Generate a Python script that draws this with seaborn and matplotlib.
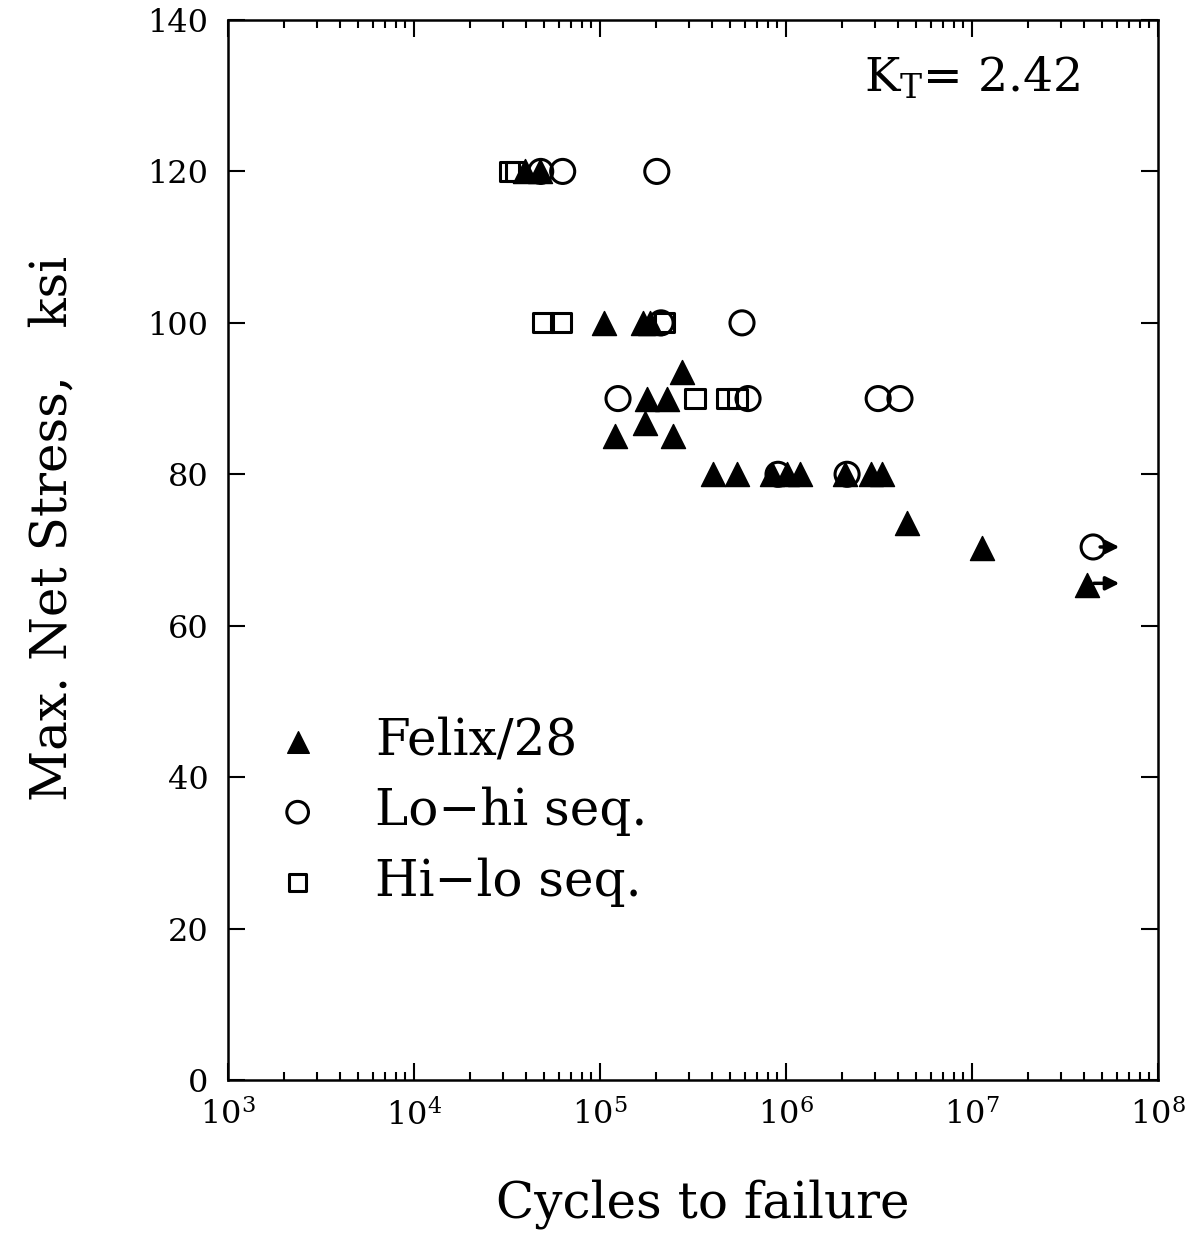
import numpy as np
import pandas as pd
import matplotlib
matplotlib.use("Agg")
import matplotlib.pyplot as plt
from matplotlib.ticker import LogLocator, FixedLocator
import seaborn as sns

# Felix/28 baseline (filled triangles)
felix_cycles = [3.95e4, 4.75e4, 1.05e5, 1.70e5, 1.86e5, 2.76e5, 1.79e5, 2.29e5,
                1.75e5, 1.20e5, 2.47e5, 4.06e5, 5.46e5, 8.42e5, 1.01e6, 1.19e6,
                2.07e6, 2.86e6, 3.28e6, 4.48e6, 1.13e7, 4.15e7]
felix_stress = [120, 120, 100, 100, 100, 93.5, 90, 90,
                86.8, 85, 85, 80, 80, 80, 80, 80,
                80, 80, 80, 73.6, 70.3, 65.4]

# Lo-hi sequence (open circles)
lohi_cycles = [4.8e4, 6.3e4, 2.02e5, 2.13e5, 5.8e5, 1.25e5, 6.25e5, 3.13e6,
               4.1e6, 9.06e5, 2.13e6, 4.48e7]
lohi_stress = [120, 120, 120, 100, 100, 90, 90, 90,
               90, 80, 80, 70.4]

# Hi-lo sequence (open squares)
hilo_cycles = [3.25e4, 3.5e4, 4.94e4, 6.17e4, 2.23e5, 3.24e5, 4.82e5, 5.46e5]
hilo_stress = [120, 120, 100, 100, 100, 90, 90, 90]

# run-outs (arrow start, arrow end, stress)
runout_start = [4.48e7, 4.15e7]
runout_end = [6.2e7, 6.2e7]
runout_stress = [70.4, 65.6]

y_ticks = [0, 20, 40, 60, 80, 100, 120, 140]

sns.set_style("ticks")
plt.rcParams['font.family'] = ['DejaVu Serif']
plt.rcParams['mathtext.fontset'] = 'dejavuserif'
for key in ['text.color', 'axes.labelcolor', 'xtick.color', 'ytick.color', 'axes.edgecolor']:
    plt.rcParams[key] = 'black'

fig = plt.figure(figsize=(11.99, 12.37), dpi=100)
ax = fig.add_axes([228 / 1199, 1 - 1080 / 1237, 930 / 1199, 1060 / 1237])

sns.scatterplot(x=hilo_cycles, y=hilo_stress, marker='s', s=190, facecolor='none',
                edgecolor='black', linewidth=2.2, ax=ax, label='Hi\u2212lo seq.', zorder=3)
sns.scatterplot(x=felix_cycles, y=felix_stress, marker='^', s=300, color='black',
                edgecolor='black', linewidth=1, ax=ax, label='Felix/28', zorder=4)
sns.scatterplot(x=lohi_cycles, y=lohi_stress, marker='o', s=300, facecolor='none',
                edgecolor='black', linewidth=2.2, ax=ax, label='Lo\u2212hi seq.', zorder=5)

for xs, xe, ys in zip(runout_start, runout_end, runout_stress):
    ax.annotate('', xy=(xe, ys), xytext=(xs * 1.09, ys),
                arrowprops=dict(arrowstyle='-|>', color='black', lw=2.5,
                                mutation_scale=20, shrinkA=0, shrinkB=0))

ax.set_xscale('log')
ax.set_xlim(1e3, 1e8)
ax.set_ylim(0, 140)
ax.yaxis.set_major_locator(FixedLocator(y_ticks))
ax.xaxis.set_major_locator(LogLocator(base=10, numticks=10))
ax.xaxis.set_minor_locator(LogLocator(base=10, subs=np.arange(2, 10), numticks=10))

ax.tick_params(which='both', direction='in', top=True, right=True, width=1.5, color='black')
ax.tick_params(which='major', length=12, labelsize=23, pad=14)
ax.tick_params(which='minor', length=6)
for sp in ax.spines.values():
    sp.set_linewidth(1.8)

ax.set_xlabel('Cycles to failure', fontsize=36)
ax.xaxis.set_label_coords(0.511, -0.093)
ax.set_ylabel('Max. Net Stress,   ksi', fontsize=36)
ax.yaxis.set_label_coords(-0.162, 0.52)

ax.text(0.684, 0.945, r'K$_\mathrm{T}$= 2.42', transform=ax.transAxes, fontsize=34,
        ha='left', va='center')

handles, labels = ax.get_legend_handles_labels()
order = [labels.index('Felix/28'), labels.index('Lo\u2212hi seq.'), labels.index('Hi\u2212lo seq.')]
ax.legend([handles[i] for i in order], [labels[i] for i in order],
          loc='upper left', bbox_to_anchor=(0.048, 0.343), frameon=False,
          fontsize=36, labelspacing=0.42, handletextpad=1.05, markerscale=0.9,
          handlelength=1.0, borderpad=0, borderaxespad=0)

fig.savefig('out.png', dpi=100, facecolor='white')
